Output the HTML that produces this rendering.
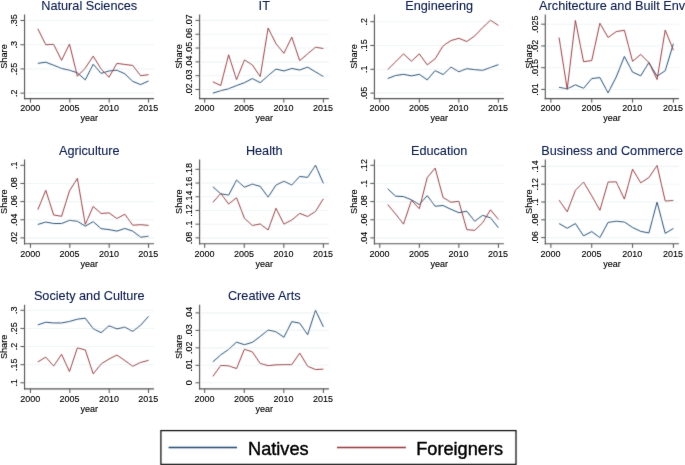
<!DOCTYPE html>
<html><head><meta charset="utf-8"><style>
html,body{margin:0;padding:0;background:#fff;}
svg{display:block;}
text{font-family:"Liberation Sans", sans-serif;fill:#000;stroke:#000;stroke-width:0.12px;}
.t{fill:#0a1c4a;stroke:#0a1c4a;stroke-width:0.1px;}
.lg{stroke-width:0.4px;}
</style></head><body>
<svg width="685" height="465" viewBox="0 0 685 465">
<defs><filter id="bl" filterUnits="userSpaceOnUse" x="0" y="0" width="685" height="465"><feConvolveMatrix order="3" kernelMatrix="0.01331 0.08876 0.01331 0.08876 0.59172 0.08876 0.01331 0.08876 0.01331" edgeMode="none"/></filter>
<filter id="tb" filterUnits="userSpaceOnUse" x="0" y="0" width="685" height="465"><feConvolveMatrix order="3" kernelMatrix="0.00207 0.04132 0.00207 0.04132 0.82645 0.04132 0.00207 0.04132 0.00207" edgeMode="none"/></filter></defs>
<rect width="685" height="465" fill="#fff"/>
<g filter="url(#bl)">
<line x1="25.15" y1="93.15" x2="154.00" y2="93.15" stroke="#eef4f5" stroke-width="1.1"/>
<line x1="25.15" y1="68.93" x2="154.00" y2="68.93" stroke="#eef4f5" stroke-width="1.1"/>
<line x1="25.15" y1="44.72" x2="154.00" y2="44.72" stroke="#eef4f5" stroke-width="1.1"/>
<line x1="25.15" y1="20.50" x2="154.00" y2="20.50" stroke="#eef4f5" stroke-width="1.1"/>
<polyline points="37.85,63.34 45.76,62.20 53.66,65.24 61.57,68.47 69.48,70.18 77.39,72.83 85.29,79.85 93.20,64.29 101.11,73.40 109.01,70.93 116.92,70.18 124.83,73.78 132.74,81.37 140.64,84.60 148.55,80.99" fill="none" stroke="#1a476f" stroke-width="0.95" stroke-linejoin="round"/>
<polyline points="37.85,28.80 45.76,44.74 53.66,44.36 61.57,60.31 69.48,43.99 77.39,76.25 85.29,68.09 93.20,56.13 101.11,69.04 109.01,77.20 116.92,63.34 124.83,64.48 132.74,65.43 140.64,75.68 148.55,74.73" fill="none" stroke="#90353b" stroke-width="0.95" stroke-linejoin="round"/>
<line x1="24.55" y1="14.40" x2="24.55" y2="99.20" stroke="#505050" stroke-width="1.1"/>
<line x1="23.95" y1="98.60" x2="154.00" y2="98.60" stroke="#505050" stroke-width="1.1"/>
<line x1="20.45" y1="93.15" x2="24.55" y2="93.15" stroke="#505050" stroke-width="1.0"/>
<line x1="20.45" y1="68.93" x2="24.55" y2="68.93" stroke="#505050" stroke-width="1.0"/>
<line x1="20.45" y1="44.72" x2="24.55" y2="44.72" stroke="#505050" stroke-width="1.0"/>
<line x1="20.45" y1="20.50" x2="24.55" y2="20.50" stroke="#505050" stroke-width="1.0"/>
<line x1="30.45" y1="98.60" x2="30.45" y2="102.70" stroke="#505050" stroke-width="1.0"/>
<line x1="69.82" y1="98.60" x2="69.82" y2="102.70" stroke="#505050" stroke-width="1.0"/>
<line x1="109.18" y1="98.60" x2="109.18" y2="102.70" stroke="#505050" stroke-width="1.0"/>
<line x1="148.55" y1="98.60" x2="148.55" y2="102.70" stroke="#505050" stroke-width="1.0"/>
<line x1="200.20" y1="89.50" x2="328.90" y2="89.50" stroke="#eef4f5" stroke-width="1.1"/>
<line x1="200.20" y1="75.68" x2="328.90" y2="75.68" stroke="#eef4f5" stroke-width="1.1"/>
<line x1="200.20" y1="61.86" x2="328.90" y2="61.86" stroke="#eef4f5" stroke-width="1.1"/>
<line x1="200.20" y1="48.04" x2="328.90" y2="48.04" stroke="#eef4f5" stroke-width="1.1"/>
<line x1="200.20" y1="34.22" x2="328.90" y2="34.22" stroke="#eef4f5" stroke-width="1.1"/>
<line x1="200.20" y1="20.40" x2="328.90" y2="20.40" stroke="#eef4f5" stroke-width="1.1"/>
<polyline points="212.85,93.14 220.75,90.67 228.64,88.77 236.54,85.55 244.44,82.70 252.33,78.53 260.23,82.70 268.12,75.68 276.02,69.04 283.92,70.93 291.81,68.47 299.71,69.99 307.61,67.14 315.50,71.88 323.40,76.63" fill="none" stroke="#1a476f" stroke-width="0.95" stroke-linejoin="round"/>
<polyline points="212.85,81.75 220.75,85.55 228.64,54.80 236.54,79.66 244.44,59.93 252.33,64.86 260.23,76.63 268.12,28.04 276.02,43.80 283.92,53.28 291.81,37.15 299.71,60.69 307.61,53.85 315.50,47.21 323.40,48.54" fill="none" stroke="#90353b" stroke-width="0.95" stroke-linejoin="round"/>
<line x1="199.60" y1="14.40" x2="199.60" y2="99.20" stroke="#505050" stroke-width="1.1"/>
<line x1="199.00" y1="98.60" x2="328.90" y2="98.60" stroke="#505050" stroke-width="1.1"/>
<line x1="195.50" y1="89.50" x2="199.60" y2="89.50" stroke="#505050" stroke-width="1.0"/>
<line x1="195.50" y1="75.68" x2="199.60" y2="75.68" stroke="#505050" stroke-width="1.0"/>
<line x1="195.50" y1="61.86" x2="199.60" y2="61.86" stroke="#505050" stroke-width="1.0"/>
<line x1="195.50" y1="48.04" x2="199.60" y2="48.04" stroke="#505050" stroke-width="1.0"/>
<line x1="195.50" y1="34.22" x2="199.60" y2="34.22" stroke="#505050" stroke-width="1.0"/>
<line x1="195.50" y1="20.40" x2="199.60" y2="20.40" stroke="#505050" stroke-width="1.0"/>
<line x1="204.70" y1="98.60" x2="204.70" y2="102.70" stroke="#505050" stroke-width="1.0"/>
<line x1="244.27" y1="98.60" x2="244.27" y2="102.70" stroke="#505050" stroke-width="1.0"/>
<line x1="283.83" y1="98.60" x2="283.83" y2="102.70" stroke="#505050" stroke-width="1.0"/>
<line x1="323.40" y1="98.60" x2="323.40" y2="102.70" stroke="#505050" stroke-width="1.0"/>
<line x1="375.05" y1="93.10" x2="503.90" y2="93.10" stroke="#eef4f5" stroke-width="1.1"/>
<line x1="375.05" y1="69.30" x2="503.90" y2="69.30" stroke="#eef4f5" stroke-width="1.1"/>
<line x1="375.05" y1="45.50" x2="503.90" y2="45.50" stroke="#eef4f5" stroke-width="1.1"/>
<line x1="375.05" y1="21.70" x2="503.90" y2="21.70" stroke="#eef4f5" stroke-width="1.1"/>
<polyline points="387.71,78.53 395.61,75.49 403.52,74.35 411.43,75.87 419.33,74.35 427.24,79.85 435.15,70.55 443.05,74.54 450.96,67.14 458.87,71.69 466.77,68.66 474.68,69.61 482.59,70.36 490.49,67.52 498.40,64.67" fill="none" stroke="#1a476f" stroke-width="0.95" stroke-linejoin="round"/>
<polyline points="387.71,69.61 395.61,61.82 403.52,53.85 411.43,61.26 419.33,53.85 427.24,64.86 435.15,58.79 443.05,45.88 450.96,40.57 458.87,38.29 466.77,41.52 474.68,36.01 482.59,27.66 490.49,20.26 498.40,25.39" fill="none" stroke="#90353b" stroke-width="0.95" stroke-linejoin="round"/>
<line x1="374.45" y1="14.40" x2="374.45" y2="99.20" stroke="#505050" stroke-width="1.1"/>
<line x1="373.85" y1="98.60" x2="503.90" y2="98.60" stroke="#505050" stroke-width="1.1"/>
<line x1="370.35" y1="93.10" x2="374.45" y2="93.10" stroke="#505050" stroke-width="1.0"/>
<line x1="370.35" y1="69.30" x2="374.45" y2="69.30" stroke="#505050" stroke-width="1.0"/>
<line x1="370.35" y1="45.50" x2="374.45" y2="45.50" stroke="#505050" stroke-width="1.0"/>
<line x1="370.35" y1="21.70" x2="374.45" y2="21.70" stroke="#505050" stroke-width="1.0"/>
<line x1="379.80" y1="98.60" x2="379.80" y2="102.70" stroke="#505050" stroke-width="1.0"/>
<line x1="419.33" y1="98.60" x2="419.33" y2="102.70" stroke="#505050" stroke-width="1.0"/>
<line x1="458.87" y1="98.60" x2="458.87" y2="102.70" stroke="#505050" stroke-width="1.0"/>
<line x1="498.40" y1="98.60" x2="498.40" y2="102.70" stroke="#505050" stroke-width="1.0"/>
<line x1="545.90" y1="89.45" x2="678.90" y2="89.45" stroke="#eef4f5" stroke-width="1.1"/>
<line x1="545.90" y1="67.70" x2="678.90" y2="67.70" stroke="#eef4f5" stroke-width="1.1"/>
<line x1="545.90" y1="45.95" x2="678.90" y2="45.95" stroke="#eef4f5" stroke-width="1.1"/>
<line x1="545.90" y1="24.20" x2="678.90" y2="24.20" stroke="#eef4f5" stroke-width="1.1"/>
<polyline points="559.07,87.36 567.23,88.92 575.40,84.81 583.57,88.34 591.73,78.55 599.90,77.58 608.07,92.84 616.23,76.99 624.40,56.45 632.57,72.10 640.73,75.82 648.90,62.51 657.07,76.21 665.23,70.73 673.40,43.73" fill="none" stroke="#1a476f" stroke-width="0.95" stroke-linejoin="round"/>
<polyline points="559.07,37.47 567.23,89.31 575.40,20.46 583.57,61.73 591.73,60.56 599.90,23.19 608.07,37.47 616.23,31.61 624.40,30.24 632.57,61.34 640.73,54.49 648.90,62.51 657.07,79.53 665.23,30.04 673.40,50.19" fill="none" stroke="#90353b" stroke-width="0.95" stroke-linejoin="round"/>
<line x1="545.30" y1="14.40" x2="545.30" y2="99.20" stroke="#505050" stroke-width="1.1"/>
<line x1="544.70" y1="98.60" x2="678.90" y2="98.60" stroke="#505050" stroke-width="1.1"/>
<line x1="541.20" y1="89.45" x2="545.30" y2="89.45" stroke="#505050" stroke-width="1.0"/>
<line x1="541.20" y1="67.70" x2="545.30" y2="67.70" stroke="#505050" stroke-width="1.0"/>
<line x1="541.20" y1="45.95" x2="545.30" y2="45.95" stroke="#505050" stroke-width="1.0"/>
<line x1="541.20" y1="24.20" x2="545.30" y2="24.20" stroke="#505050" stroke-width="1.0"/>
<line x1="550.90" y1="98.60" x2="550.90" y2="102.70" stroke="#505050" stroke-width="1.0"/>
<line x1="591.73" y1="98.60" x2="591.73" y2="102.70" stroke="#505050" stroke-width="1.0"/>
<line x1="632.57" y1="98.60" x2="632.57" y2="102.70" stroke="#505050" stroke-width="1.0"/>
<line x1="673.40" y1="98.60" x2="673.40" y2="102.70" stroke="#505050" stroke-width="1.0"/>
<line x1="25.15" y1="237.90" x2="154.00" y2="237.90" stroke="#eef4f5" stroke-width="1.1"/>
<line x1="25.15" y1="219.75" x2="154.00" y2="219.75" stroke="#eef4f5" stroke-width="1.1"/>
<line x1="25.15" y1="201.60" x2="154.00" y2="201.60" stroke="#eef4f5" stroke-width="1.1"/>
<line x1="25.15" y1="183.45" x2="154.00" y2="183.45" stroke="#eef4f5" stroke-width="1.1"/>
<polyline points="37.85,224.47 45.76,222.01 53.66,223.53 61.57,223.53 69.48,220.30 77.39,221.25 85.29,226.18 93.20,221.63 101.11,228.65 109.01,229.60 116.92,231.12 124.83,228.46 132.74,231.12 140.64,237.19 148.55,236.24" fill="none" stroke="#1a476f" stroke-width="0.95" stroke-linejoin="round"/>
<polyline points="37.85,209.67 45.76,190.31 53.66,214.99 61.57,216.31 69.48,190.88 77.39,178.36 85.29,224.47 93.20,206.45 101.11,213.47 109.01,212.90 116.92,218.59 124.83,214.23 132.74,225.23 140.64,224.66 148.55,225.42" fill="none" stroke="#90353b" stroke-width="0.95" stroke-linejoin="round"/>
<line x1="24.55" y1="159.60" x2="24.55" y2="244.40" stroke="#505050" stroke-width="1.1"/>
<line x1="23.95" y1="243.80" x2="154.00" y2="243.80" stroke="#505050" stroke-width="1.1"/>
<line x1="20.45" y1="237.90" x2="24.55" y2="237.90" stroke="#505050" stroke-width="1.0"/>
<line x1="20.45" y1="219.75" x2="24.55" y2="219.75" stroke="#505050" stroke-width="1.0"/>
<line x1="20.45" y1="201.60" x2="24.55" y2="201.60" stroke="#505050" stroke-width="1.0"/>
<line x1="20.45" y1="183.45" x2="24.55" y2="183.45" stroke="#505050" stroke-width="1.0"/>
<line x1="20.45" y1="165.30" x2="24.55" y2="165.30" stroke="#505050" stroke-width="1.0"/>
<line x1="30.45" y1="243.80" x2="30.45" y2="247.90" stroke="#505050" stroke-width="1.0"/>
<line x1="69.82" y1="243.80" x2="69.82" y2="247.90" stroke="#505050" stroke-width="1.0"/>
<line x1="109.18" y1="243.80" x2="109.18" y2="247.90" stroke="#505050" stroke-width="1.0"/>
<line x1="148.55" y1="243.80" x2="148.55" y2="247.90" stroke="#505050" stroke-width="1.0"/>
<line x1="200.20" y1="237.90" x2="328.90" y2="237.90" stroke="#eef4f5" stroke-width="1.1"/>
<line x1="200.20" y1="224.18" x2="328.90" y2="224.18" stroke="#eef4f5" stroke-width="1.1"/>
<line x1="200.20" y1="210.46" x2="328.90" y2="210.46" stroke="#eef4f5" stroke-width="1.1"/>
<line x1="200.20" y1="196.74" x2="328.90" y2="196.74" stroke="#eef4f5" stroke-width="1.1"/>
<line x1="200.20" y1="183.02" x2="328.90" y2="183.02" stroke="#eef4f5" stroke-width="1.1"/>
<line x1="200.20" y1="169.30" x2="328.90" y2="169.30" stroke="#eef4f5" stroke-width="1.1"/>
<polyline points="212.85,186.78 220.75,193.82 228.64,195.19 236.54,180.13 244.44,187.17 252.33,184.04 260.23,186.39 268.12,197.15 276.02,185.02 283.92,181.30 291.81,185.02 299.71,176.41 307.61,177.39 315.50,165.26 323.40,183.45" fill="none" stroke="#1a476f" stroke-width="0.95" stroke-linejoin="round"/>
<polyline points="212.85,202.43 220.75,193.43 228.64,203.99 236.54,197.73 244.44,218.27 252.33,225.51 260.23,223.95 268.12,230.01 276.02,208.30 283.92,224.14 291.81,220.03 299.71,213.38 307.61,216.51 315.50,211.43 323.40,198.71" fill="none" stroke="#90353b" stroke-width="0.95" stroke-linejoin="round"/>
<line x1="199.60" y1="159.60" x2="199.60" y2="244.40" stroke="#505050" stroke-width="1.1"/>
<line x1="199.00" y1="243.80" x2="328.90" y2="243.80" stroke="#505050" stroke-width="1.1"/>
<line x1="195.50" y1="237.90" x2="199.60" y2="237.90" stroke="#505050" stroke-width="1.0"/>
<line x1="195.50" y1="224.18" x2="199.60" y2="224.18" stroke="#505050" stroke-width="1.0"/>
<line x1="195.50" y1="210.46" x2="199.60" y2="210.46" stroke="#505050" stroke-width="1.0"/>
<line x1="195.50" y1="196.74" x2="199.60" y2="196.74" stroke="#505050" stroke-width="1.0"/>
<line x1="195.50" y1="183.02" x2="199.60" y2="183.02" stroke="#505050" stroke-width="1.0"/>
<line x1="195.50" y1="169.30" x2="199.60" y2="169.30" stroke="#505050" stroke-width="1.0"/>
<line x1="204.70" y1="243.80" x2="204.70" y2="247.90" stroke="#505050" stroke-width="1.0"/>
<line x1="244.27" y1="243.80" x2="244.27" y2="247.90" stroke="#505050" stroke-width="1.0"/>
<line x1="283.83" y1="243.80" x2="283.83" y2="247.90" stroke="#505050" stroke-width="1.0"/>
<line x1="323.40" y1="243.80" x2="323.40" y2="247.90" stroke="#505050" stroke-width="1.0"/>
<line x1="375.05" y1="237.90" x2="503.90" y2="237.90" stroke="#eef4f5" stroke-width="1.1"/>
<line x1="375.05" y1="219.75" x2="503.90" y2="219.75" stroke="#eef4f5" stroke-width="1.1"/>
<line x1="375.05" y1="201.60" x2="503.90" y2="201.60" stroke="#eef4f5" stroke-width="1.1"/>
<line x1="375.05" y1="183.45" x2="503.90" y2="183.45" stroke="#eef4f5" stroke-width="1.1"/>
<line x1="375.05" y1="165.30" x2="503.90" y2="165.30" stroke="#eef4f5" stroke-width="1.1"/>
<polyline points="387.71,188.80 395.61,196.20 403.52,196.58 411.43,199.80 419.33,204.55 427.24,195.63 435.15,206.26 443.05,205.50 450.96,209.29 458.87,212.71 466.77,211.19 474.68,221.25 482.59,215.36 490.49,217.83 498.40,227.70" fill="none" stroke="#1a476f" stroke-width="0.95" stroke-linejoin="round"/>
<polyline points="387.71,204.55 395.61,214.04 403.52,224.09 411.43,200.37 419.33,208.72 427.24,177.60 435.15,168.11 443.05,197.53 450.96,202.27 458.87,201.32 466.77,229.60 474.68,230.36 482.59,222.77 490.49,209.86 498.40,219.35" fill="none" stroke="#90353b" stroke-width="0.95" stroke-linejoin="round"/>
<line x1="374.45" y1="159.60" x2="374.45" y2="244.40" stroke="#505050" stroke-width="1.1"/>
<line x1="373.85" y1="243.80" x2="503.90" y2="243.80" stroke="#505050" stroke-width="1.1"/>
<line x1="370.35" y1="237.90" x2="374.45" y2="237.90" stroke="#505050" stroke-width="1.0"/>
<line x1="370.35" y1="219.75" x2="374.45" y2="219.75" stroke="#505050" stroke-width="1.0"/>
<line x1="370.35" y1="201.60" x2="374.45" y2="201.60" stroke="#505050" stroke-width="1.0"/>
<line x1="370.35" y1="183.45" x2="374.45" y2="183.45" stroke="#505050" stroke-width="1.0"/>
<line x1="370.35" y1="165.30" x2="374.45" y2="165.30" stroke="#505050" stroke-width="1.0"/>
<line x1="379.80" y1="243.80" x2="379.80" y2="247.90" stroke="#505050" stroke-width="1.0"/>
<line x1="419.33" y1="243.80" x2="419.33" y2="247.90" stroke="#505050" stroke-width="1.0"/>
<line x1="458.87" y1="243.80" x2="458.87" y2="247.90" stroke="#505050" stroke-width="1.0"/>
<line x1="498.40" y1="243.80" x2="498.40" y2="247.90" stroke="#505050" stroke-width="1.0"/>
<line x1="545.90" y1="237.60" x2="678.90" y2="237.60" stroke="#eef4f5" stroke-width="1.1"/>
<line x1="545.90" y1="219.80" x2="678.90" y2="219.80" stroke="#eef4f5" stroke-width="1.1"/>
<line x1="545.90" y1="202.00" x2="678.90" y2="202.00" stroke="#eef4f5" stroke-width="1.1"/>
<line x1="545.90" y1="184.20" x2="678.90" y2="184.20" stroke="#eef4f5" stroke-width="1.1"/>
<line x1="545.90" y1="166.40" x2="678.90" y2="166.40" stroke="#eef4f5" stroke-width="1.1"/>
<polyline points="559.07,223.55 567.23,228.25 575.40,223.55 583.57,235.88 591.73,231.58 599.90,237.64 608.07,222.38 616.23,221.21 624.40,221.99 632.57,227.47 640.73,231.38 648.90,232.94 657.07,202.04 665.23,233.34 673.40,228.45" fill="none" stroke="#1a476f" stroke-width="0.95" stroke-linejoin="round"/>
<polyline points="559.07,200.08 567.23,211.82 575.40,190.30 583.57,182.08 591.73,195.78 599.90,210.25 608.07,182.08 616.23,181.89 624.40,199.10 632.57,169.17 640.73,182.87 648.90,177.58 657.07,165.46 665.23,201.06 673.40,200.47" fill="none" stroke="#90353b" stroke-width="0.95" stroke-linejoin="round"/>
<line x1="545.30" y1="159.60" x2="545.30" y2="244.40" stroke="#505050" stroke-width="1.1"/>
<line x1="544.70" y1="243.80" x2="678.90" y2="243.80" stroke="#505050" stroke-width="1.1"/>
<line x1="541.20" y1="237.60" x2="545.30" y2="237.60" stroke="#505050" stroke-width="1.0"/>
<line x1="541.20" y1="219.80" x2="545.30" y2="219.80" stroke="#505050" stroke-width="1.0"/>
<line x1="541.20" y1="202.00" x2="545.30" y2="202.00" stroke="#505050" stroke-width="1.0"/>
<line x1="541.20" y1="184.20" x2="545.30" y2="184.20" stroke="#505050" stroke-width="1.0"/>
<line x1="541.20" y1="166.40" x2="545.30" y2="166.40" stroke="#505050" stroke-width="1.0"/>
<line x1="550.90" y1="243.80" x2="550.90" y2="247.90" stroke="#505050" stroke-width="1.0"/>
<line x1="591.73" y1="243.80" x2="591.73" y2="247.90" stroke="#505050" stroke-width="1.0"/>
<line x1="632.57" y1="243.80" x2="632.57" y2="247.90" stroke="#505050" stroke-width="1.0"/>
<line x1="673.40" y1="243.80" x2="673.40" y2="247.90" stroke="#505050" stroke-width="1.0"/>
<line x1="25.15" y1="382.80" x2="154.00" y2="382.80" stroke="#eef4f5" stroke-width="1.1"/>
<line x1="25.15" y1="364.68" x2="154.00" y2="364.68" stroke="#eef4f5" stroke-width="1.1"/>
<line x1="25.15" y1="346.55" x2="154.00" y2="346.55" stroke="#eef4f5" stroke-width="1.1"/>
<line x1="25.15" y1="328.43" x2="154.00" y2="328.43" stroke="#eef4f5" stroke-width="1.1"/>
<line x1="25.15" y1="310.30" x2="154.00" y2="310.30" stroke="#eef4f5" stroke-width="1.1"/>
<polyline points="37.85,324.88 45.76,322.22 53.66,322.98 61.57,322.98 69.48,321.46 77.39,319.18 85.29,318.23 93.20,328.67 101.11,332.66 109.01,325.82 116.92,328.86 124.83,327.15 132.74,331.33 140.64,325.26 148.55,316.34" fill="none" stroke="#1a476f" stroke-width="0.95" stroke-linejoin="round"/>
<polyline points="37.85,361.88 45.76,357.14 53.66,366.06 61.57,354.29 69.48,371.56 77.39,347.84 85.29,349.93 93.20,373.84 101.11,363.97 109.01,359.04 116.92,355.05 124.83,360.55 132.74,366.25 140.64,362.45 148.55,360.36" fill="none" stroke="#90353b" stroke-width="0.95" stroke-linejoin="round"/>
<line x1="24.55" y1="304.80" x2="24.55" y2="389.50" stroke="#505050" stroke-width="1.1"/>
<line x1="23.95" y1="388.90" x2="154.00" y2="388.90" stroke="#505050" stroke-width="1.1"/>
<line x1="20.45" y1="382.80" x2="24.55" y2="382.80" stroke="#505050" stroke-width="1.0"/>
<line x1="20.45" y1="364.68" x2="24.55" y2="364.68" stroke="#505050" stroke-width="1.0"/>
<line x1="20.45" y1="346.55" x2="24.55" y2="346.55" stroke="#505050" stroke-width="1.0"/>
<line x1="20.45" y1="328.43" x2="24.55" y2="328.43" stroke="#505050" stroke-width="1.0"/>
<line x1="20.45" y1="310.30" x2="24.55" y2="310.30" stroke="#505050" stroke-width="1.0"/>
<line x1="30.45" y1="388.90" x2="30.45" y2="393.00" stroke="#505050" stroke-width="1.0"/>
<line x1="69.82" y1="388.90" x2="69.82" y2="393.00" stroke="#505050" stroke-width="1.0"/>
<line x1="109.18" y1="388.90" x2="109.18" y2="393.00" stroke="#505050" stroke-width="1.0"/>
<line x1="148.55" y1="388.90" x2="148.55" y2="393.00" stroke="#505050" stroke-width="1.0"/>
<line x1="200.20" y1="382.80" x2="328.90" y2="382.80" stroke="#eef4f5" stroke-width="1.1"/>
<line x1="200.20" y1="365.32" x2="328.90" y2="365.32" stroke="#eef4f5" stroke-width="1.1"/>
<line x1="200.20" y1="347.85" x2="328.90" y2="347.85" stroke="#eef4f5" stroke-width="1.1"/>
<line x1="200.20" y1="330.38" x2="328.90" y2="330.38" stroke="#eef4f5" stroke-width="1.1"/>
<line x1="200.20" y1="312.90" x2="328.90" y2="312.90" stroke="#eef4f5" stroke-width="1.1"/>
<polyline points="212.85,361.90 220.75,354.86 228.64,349.38 236.54,342.15 244.44,344.69 252.33,342.34 260.23,336.47 268.12,330.02 276.02,331.78 283.92,337.26 291.81,321.61 299.71,323.17 307.61,334.71 315.50,310.26 323.40,326.89" fill="none" stroke="#1a476f" stroke-width="0.95" stroke-linejoin="round"/>
<polyline points="212.85,376.38 220.75,365.42 228.64,365.82 236.54,368.55 244.44,349.19 252.33,351.93 260.23,363.47 268.12,365.62 276.02,364.84 283.92,364.64 291.81,364.64 299.71,353.10 307.61,366.21 315.50,369.53 323.40,369.14" fill="none" stroke="#90353b" stroke-width="0.95" stroke-linejoin="round"/>
<line x1="199.60" y1="304.80" x2="199.60" y2="389.50" stroke="#505050" stroke-width="1.1"/>
<line x1="199.00" y1="388.90" x2="328.90" y2="388.90" stroke="#505050" stroke-width="1.1"/>
<line x1="195.50" y1="382.80" x2="199.60" y2="382.80" stroke="#505050" stroke-width="1.0"/>
<line x1="195.50" y1="365.32" x2="199.60" y2="365.32" stroke="#505050" stroke-width="1.0"/>
<line x1="195.50" y1="347.85" x2="199.60" y2="347.85" stroke="#505050" stroke-width="1.0"/>
<line x1="195.50" y1="330.38" x2="199.60" y2="330.38" stroke="#505050" stroke-width="1.0"/>
<line x1="195.50" y1="312.90" x2="199.60" y2="312.90" stroke="#505050" stroke-width="1.0"/>
<line x1="204.70" y1="388.90" x2="204.70" y2="393.00" stroke="#505050" stroke-width="1.0"/>
<line x1="244.27" y1="388.90" x2="244.27" y2="393.00" stroke="#505050" stroke-width="1.0"/>
<line x1="283.83" y1="388.90" x2="283.83" y2="393.00" stroke="#505050" stroke-width="1.0"/>
<line x1="323.40" y1="388.90" x2="323.40" y2="393.00" stroke="#505050" stroke-width="1.0"/>

<rect x="160.9" y="430.6" width="355.1" height="33.8" fill="none" stroke="#000" stroke-width="1.2"/>
<line x1="168.6" y1="447.6" x2="237.0" y2="447.6" stroke="#1a476f" stroke-width="1.5"/>
<line x1="337.0" y1="447.4" x2="405.9" y2="447.4" stroke="#90353b" stroke-width="1.5"/>

</g>
<g filter="url(#tb)">
<text x="0" y="0" transform="translate(17.10,93.15) rotate(-90) scale(1,1.1)" text-anchor="middle" font-size="9.0">.2</text>
<text x="0" y="0" transform="translate(17.10,68.93) rotate(-90) scale(1,1.1)" text-anchor="middle" font-size="9.0">.25</text>
<text x="0" y="0" transform="translate(17.10,44.72) rotate(-90) scale(1,1.1)" text-anchor="middle" font-size="9.0">.3</text>
<text x="0" y="0" transform="translate(17.10,20.50) rotate(-90) scale(1,1.1)" text-anchor="middle" font-size="9.0">.35</text>
<text x="0" y="0" transform="translate(30.15,111.40) scale(1,1.1)" text-anchor="middle" font-size="9.0">2000</text>
<text x="0" y="0" transform="translate(69.52,111.40) scale(1,1.1)" text-anchor="middle" font-size="9.0">2005</text>
<text x="0" y="0" transform="translate(108.88,111.40) scale(1,1.1)" text-anchor="middle" font-size="9.0">2010</text>
<text x="0" y="0" transform="translate(148.25,111.40) scale(1,1.1)" text-anchor="middle" font-size="9.0">2015</text>
<text x="0" y="0" transform="translate(89.28,121.40) scale(1,1.05)" text-anchor="middle" font-size="9.0">year</text>
<text x="0" y="0" transform="translate(7.10,56.50) rotate(-90) scale(1,1.0)" text-anchor="middle" font-size="9.2">Share</text>
<text x="89.28" y="9.60" text-anchor="middle" font-size="12.7" class="t">Natural Sciences</text>
<text x="0" y="0" transform="translate(192.15,89.50) rotate(-90) scale(1,1.1)" text-anchor="middle" font-size="9.0">.02</text>
<text x="0" y="0" transform="translate(192.15,75.68) rotate(-90) scale(1,1.1)" text-anchor="middle" font-size="9.0">.03</text>
<text x="0" y="0" transform="translate(192.15,61.86) rotate(-90) scale(1,1.1)" text-anchor="middle" font-size="9.0">.04</text>
<text x="0" y="0" transform="translate(192.15,48.04) rotate(-90) scale(1,1.1)" text-anchor="middle" font-size="9.0">.05</text>
<text x="0" y="0" transform="translate(192.15,34.22) rotate(-90) scale(1,1.1)" text-anchor="middle" font-size="9.0">.06</text>
<text x="0" y="0" transform="translate(192.15,20.40) rotate(-90) scale(1,1.1)" text-anchor="middle" font-size="9.0">.07</text>
<text x="0" y="0" transform="translate(204.40,111.40) scale(1,1.1)" text-anchor="middle" font-size="9.0">2000</text>
<text x="0" y="0" transform="translate(243.97,111.40) scale(1,1.1)" text-anchor="middle" font-size="9.0">2005</text>
<text x="0" y="0" transform="translate(283.53,111.40) scale(1,1.1)" text-anchor="middle" font-size="9.0">2010</text>
<text x="0" y="0" transform="translate(323.10,111.40) scale(1,1.1)" text-anchor="middle" font-size="9.0">2015</text>
<text x="0" y="0" transform="translate(264.25,121.40) scale(1,1.05)" text-anchor="middle" font-size="9.0">year</text>
<text x="0" y="0" transform="translate(182.00,56.50) rotate(-90) scale(1,1.0)" text-anchor="middle" font-size="9.2">Share</text>
<text x="264.25" y="9.60" text-anchor="middle" font-size="12.7" class="t">IT</text>
<text x="0" y="0" transform="translate(367.00,93.10) rotate(-90) scale(1,1.1)" text-anchor="middle" font-size="9.0">.05</text>
<text x="0" y="0" transform="translate(367.00,69.30) rotate(-90) scale(1,1.1)" text-anchor="middle" font-size="9.0">.1</text>
<text x="0" y="0" transform="translate(367.00,45.50) rotate(-90) scale(1,1.1)" text-anchor="middle" font-size="9.0">.15</text>
<text x="0" y="0" transform="translate(367.00,21.70) rotate(-90) scale(1,1.1)" text-anchor="middle" font-size="9.0">.2</text>
<text x="0" y="0" transform="translate(379.50,111.40) scale(1,1.1)" text-anchor="middle" font-size="9.0">2000</text>
<text x="0" y="0" transform="translate(419.03,111.40) scale(1,1.1)" text-anchor="middle" font-size="9.0">2005</text>
<text x="0" y="0" transform="translate(458.57,111.40) scale(1,1.1)" text-anchor="middle" font-size="9.0">2010</text>
<text x="0" y="0" transform="translate(498.10,111.40) scale(1,1.1)" text-anchor="middle" font-size="9.0">2015</text>
<text x="0" y="0" transform="translate(439.17,121.40) scale(1,1.05)" text-anchor="middle" font-size="9.0">year</text>
<text x="0" y="0" transform="translate(356.90,56.50) rotate(-90) scale(1,1.0)" text-anchor="middle" font-size="9.2">Share</text>
<text x="439.17" y="9.60" text-anchor="middle" font-size="12.7" class="t">Engineering</text>
<text x="0" y="0" transform="translate(537.85,89.45) rotate(-90) scale(1,1.1)" text-anchor="middle" font-size="9.0">.01</text>
<text x="0" y="0" transform="translate(537.85,67.70) rotate(-90) scale(1,1.1)" text-anchor="middle" font-size="9.0">.015</text>
<text x="0" y="0" transform="translate(537.85,45.95) rotate(-90) scale(1,1.1)" text-anchor="middle" font-size="9.0">.02</text>
<text x="0" y="0" transform="translate(537.85,24.20) rotate(-90) scale(1,1.1)" text-anchor="middle" font-size="9.0">.025</text>
<text x="0" y="0" transform="translate(550.60,111.40) scale(1,1.1)" text-anchor="middle" font-size="9.0">2000</text>
<text x="0" y="0" transform="translate(591.43,111.40) scale(1,1.1)" text-anchor="middle" font-size="9.0">2005</text>
<text x="0" y="0" transform="translate(632.27,111.40) scale(1,1.1)" text-anchor="middle" font-size="9.0">2010</text>
<text x="0" y="0" transform="translate(673.10,111.40) scale(1,1.1)" text-anchor="middle" font-size="9.0">2015</text>
<text x="0" y="0" transform="translate(612.10,121.40) scale(1,1.05)" text-anchor="middle" font-size="9.0">year</text>
<text x="0" y="0" transform="translate(531.50,56.50) rotate(-90) scale(1,1.0)" text-anchor="middle" font-size="9.2">Share</text>
<text x="612.10" y="9.60" text-anchor="middle" font-size="12.7" class="t">Architecture and Built Env</text>
<text x="0" y="0" transform="translate(17.10,237.90) rotate(-90) scale(1,1.1)" text-anchor="middle" font-size="9.0">.02</text>
<text x="0" y="0" transform="translate(17.10,219.75) rotate(-90) scale(1,1.1)" text-anchor="middle" font-size="9.0">.04</text>
<text x="0" y="0" transform="translate(17.10,201.60) rotate(-90) scale(1,1.1)" text-anchor="middle" font-size="9.0">.06</text>
<text x="0" y="0" transform="translate(17.10,183.45) rotate(-90) scale(1,1.1)" text-anchor="middle" font-size="9.0">.08</text>
<text x="0" y="0" transform="translate(17.10,165.30) rotate(-90) scale(1,1.1)" text-anchor="middle" font-size="9.0">.1</text>
<text x="0" y="0" transform="translate(30.15,256.60) scale(1,1.1)" text-anchor="middle" font-size="9.0">2000</text>
<text x="0" y="0" transform="translate(69.52,256.60) scale(1,1.1)" text-anchor="middle" font-size="9.0">2005</text>
<text x="0" y="0" transform="translate(108.88,256.60) scale(1,1.1)" text-anchor="middle" font-size="9.0">2010</text>
<text x="0" y="0" transform="translate(148.25,256.60) scale(1,1.1)" text-anchor="middle" font-size="9.0">2015</text>
<text x="0" y="0" transform="translate(89.28,266.60) scale(1,1.05)" text-anchor="middle" font-size="9.0">year</text>
<text x="0" y="0" transform="translate(7.10,201.70) rotate(-90) scale(1,1.0)" text-anchor="middle" font-size="9.2">Share</text>
<text x="89.28" y="154.80" text-anchor="middle" font-size="12.7" class="t">Agriculture</text>
<text x="0" y="0" transform="translate(192.15,237.90) rotate(-90) scale(1,1.1)" text-anchor="middle" font-size="9.0">.08</text>
<text x="0" y="0" transform="translate(192.15,224.18) rotate(-90) scale(1,1.1)" text-anchor="middle" font-size="9.0">.1</text>
<text x="0" y="0" transform="translate(192.15,210.46) rotate(-90) scale(1,1.1)" text-anchor="middle" font-size="9.0">.12</text>
<text x="0" y="0" transform="translate(192.15,196.74) rotate(-90) scale(1,1.1)" text-anchor="middle" font-size="9.0">.14</text>
<text x="0" y="0" transform="translate(192.15,183.02) rotate(-90) scale(1,1.1)" text-anchor="middle" font-size="9.0">.16</text>
<text x="0" y="0" transform="translate(192.15,169.30) rotate(-90) scale(1,1.1)" text-anchor="middle" font-size="9.0">.18</text>
<text x="0" y="0" transform="translate(204.40,256.60) scale(1,1.1)" text-anchor="middle" font-size="9.0">2000</text>
<text x="0" y="0" transform="translate(243.97,256.60) scale(1,1.1)" text-anchor="middle" font-size="9.0">2005</text>
<text x="0" y="0" transform="translate(283.53,256.60) scale(1,1.1)" text-anchor="middle" font-size="9.0">2010</text>
<text x="0" y="0" transform="translate(323.10,256.60) scale(1,1.1)" text-anchor="middle" font-size="9.0">2015</text>
<text x="0" y="0" transform="translate(264.25,266.60) scale(1,1.05)" text-anchor="middle" font-size="9.0">year</text>
<text x="0" y="0" transform="translate(182.00,201.70) rotate(-90) scale(1,1.0)" text-anchor="middle" font-size="9.2">Share</text>
<text x="264.25" y="154.80" text-anchor="middle" font-size="12.7" class="t">Health</text>
<text x="0" y="0" transform="translate(367.00,237.90) rotate(-90) scale(1,1.1)" text-anchor="middle" font-size="9.0">.04</text>
<text x="0" y="0" transform="translate(367.00,219.75) rotate(-90) scale(1,1.1)" text-anchor="middle" font-size="9.0">.06</text>
<text x="0" y="0" transform="translate(367.00,201.60) rotate(-90) scale(1,1.1)" text-anchor="middle" font-size="9.0">.08</text>
<text x="0" y="0" transform="translate(367.00,183.45) rotate(-90) scale(1,1.1)" text-anchor="middle" font-size="9.0">.1</text>
<text x="0" y="0" transform="translate(367.00,165.30) rotate(-90) scale(1,1.1)" text-anchor="middle" font-size="9.0">.12</text>
<text x="0" y="0" transform="translate(379.50,256.60) scale(1,1.1)" text-anchor="middle" font-size="9.0">2000</text>
<text x="0" y="0" transform="translate(419.03,256.60) scale(1,1.1)" text-anchor="middle" font-size="9.0">2005</text>
<text x="0" y="0" transform="translate(458.57,256.60) scale(1,1.1)" text-anchor="middle" font-size="9.0">2010</text>
<text x="0" y="0" transform="translate(498.10,256.60) scale(1,1.1)" text-anchor="middle" font-size="9.0">2015</text>
<text x="0" y="0" transform="translate(439.17,266.60) scale(1,1.05)" text-anchor="middle" font-size="9.0">year</text>
<text x="0" y="0" transform="translate(356.90,201.70) rotate(-90) scale(1,1.0)" text-anchor="middle" font-size="9.2">Share</text>
<text x="439.17" y="154.80" text-anchor="middle" font-size="12.7" class="t">Education</text>
<text x="0" y="0" transform="translate(537.85,237.60) rotate(-90) scale(1,1.1)" text-anchor="middle" font-size="9.0">.06</text>
<text x="0" y="0" transform="translate(537.85,219.80) rotate(-90) scale(1,1.1)" text-anchor="middle" font-size="9.0">.08</text>
<text x="0" y="0" transform="translate(537.85,202.00) rotate(-90) scale(1,1.1)" text-anchor="middle" font-size="9.0">.1</text>
<text x="0" y="0" transform="translate(537.85,184.20) rotate(-90) scale(1,1.1)" text-anchor="middle" font-size="9.0">.12</text>
<text x="0" y="0" transform="translate(537.85,166.40) rotate(-90) scale(1,1.1)" text-anchor="middle" font-size="9.0">.14</text>
<text x="0" y="0" transform="translate(550.60,256.60) scale(1,1.1)" text-anchor="middle" font-size="9.0">2000</text>
<text x="0" y="0" transform="translate(591.43,256.60) scale(1,1.1)" text-anchor="middle" font-size="9.0">2005</text>
<text x="0" y="0" transform="translate(632.27,256.60) scale(1,1.1)" text-anchor="middle" font-size="9.0">2010</text>
<text x="0" y="0" transform="translate(673.10,256.60) scale(1,1.1)" text-anchor="middle" font-size="9.0">2015</text>
<text x="0" y="0" transform="translate(612.10,266.60) scale(1,1.05)" text-anchor="middle" font-size="9.0">year</text>
<text x="0" y="0" transform="translate(531.50,201.70) rotate(-90) scale(1,1.0)" text-anchor="middle" font-size="9.2">Share</text>
<text x="612.10" y="154.80" text-anchor="middle" font-size="12.7" class="t">Business and Commerce</text>
<text x="0" y="0" transform="translate(17.10,382.80) rotate(-90) scale(1,1.1)" text-anchor="middle" font-size="9.0">.1</text>
<text x="0" y="0" transform="translate(17.10,364.68) rotate(-90) scale(1,1.1)" text-anchor="middle" font-size="9.0">.15</text>
<text x="0" y="0" transform="translate(17.10,346.55) rotate(-90) scale(1,1.1)" text-anchor="middle" font-size="9.0">.2</text>
<text x="0" y="0" transform="translate(17.10,328.43) rotate(-90) scale(1,1.1)" text-anchor="middle" font-size="9.0">.25</text>
<text x="0" y="0" transform="translate(17.10,310.30) rotate(-90) scale(1,1.1)" text-anchor="middle" font-size="9.0">.3</text>
<text x="0" y="0" transform="translate(30.15,401.70) scale(1,1.1)" text-anchor="middle" font-size="9.0">2000</text>
<text x="0" y="0" transform="translate(69.52,401.70) scale(1,1.1)" text-anchor="middle" font-size="9.0">2005</text>
<text x="0" y="0" transform="translate(108.88,401.70) scale(1,1.1)" text-anchor="middle" font-size="9.0">2010</text>
<text x="0" y="0" transform="translate(148.25,401.70) scale(1,1.1)" text-anchor="middle" font-size="9.0">2015</text>
<text x="0" y="0" transform="translate(89.28,411.70) scale(1,1.05)" text-anchor="middle" font-size="9.0">year</text>
<text x="0" y="0" transform="translate(7.10,346.85) rotate(-90) scale(1,1.0)" text-anchor="middle" font-size="9.2">Share</text>
<text x="89.28" y="300.00" text-anchor="middle" font-size="12.7" class="t">Society and Culture</text>
<text x="0" y="0" transform="translate(192.15,382.80) rotate(-90) scale(1,1.1)" text-anchor="middle" font-size="9.0">0</text>
<text x="0" y="0" transform="translate(192.15,365.32) rotate(-90) scale(1,1.1)" text-anchor="middle" font-size="9.0">.01</text>
<text x="0" y="0" transform="translate(192.15,347.85) rotate(-90) scale(1,1.1)" text-anchor="middle" font-size="9.0">.02</text>
<text x="0" y="0" transform="translate(192.15,330.38) rotate(-90) scale(1,1.1)" text-anchor="middle" font-size="9.0">.03</text>
<text x="0" y="0" transform="translate(192.15,312.90) rotate(-90) scale(1,1.1)" text-anchor="middle" font-size="9.0">.04</text>
<text x="0" y="0" transform="translate(204.40,401.70) scale(1,1.1)" text-anchor="middle" font-size="9.0">2000</text>
<text x="0" y="0" transform="translate(243.97,401.70) scale(1,1.1)" text-anchor="middle" font-size="9.0">2005</text>
<text x="0" y="0" transform="translate(283.53,401.70) scale(1,1.1)" text-anchor="middle" font-size="9.0">2010</text>
<text x="0" y="0" transform="translate(323.10,401.70) scale(1,1.1)" text-anchor="middle" font-size="9.0">2015</text>
<text x="0" y="0" transform="translate(264.25,411.70) scale(1,1.05)" text-anchor="middle" font-size="9.0">year</text>
<text x="0" y="0" transform="translate(182.00,346.85) rotate(-90) scale(1,1.0)" text-anchor="middle" font-size="9.2">Share</text>
<text x="264.25" y="300.00" text-anchor="middle" font-size="12.7" class="t">Creative Arts</text>

<text x="248.0" y="454.5" font-size="18.2" class="lg">Natives</text>
<text x="416.2" y="454.5" font-size="18.2" class="lg">Foreigners</text>

</g>
</svg>
</body></html>
